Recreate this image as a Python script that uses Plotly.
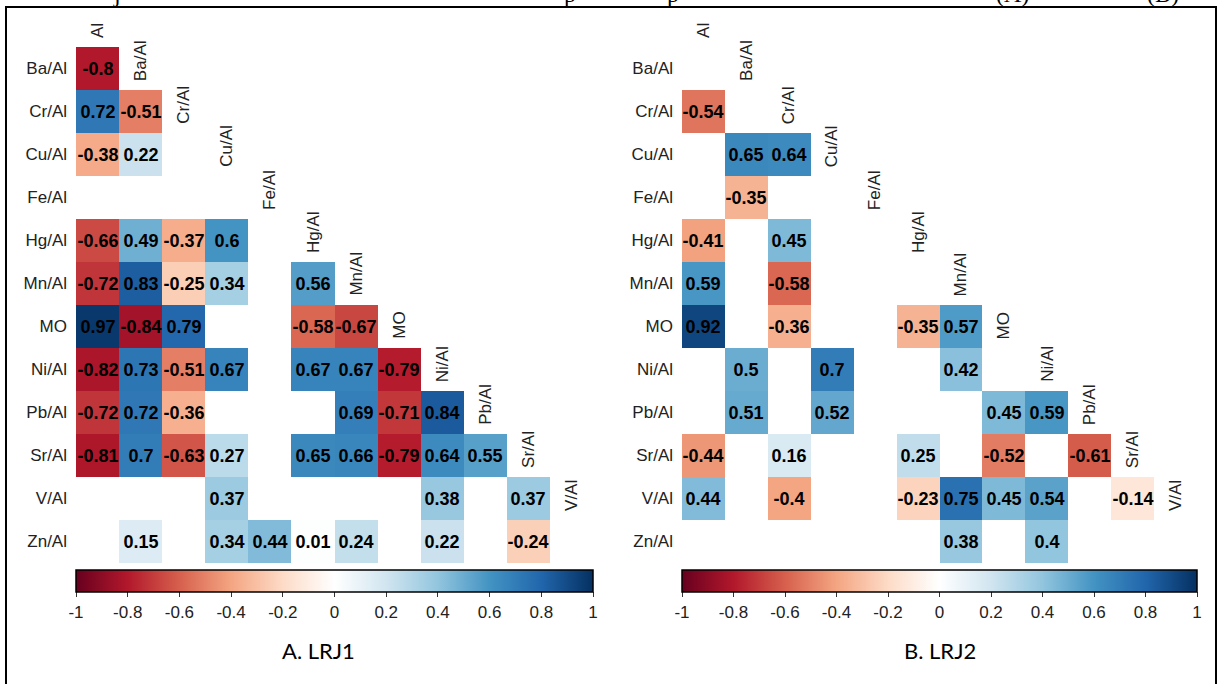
import plotly.graph_objects as go

# ---------------- data ----------------
col_labels = ["Al", "Ba/Al", "Cr/Al", "Cu/Al", "Fe/Al", "Hg/Al", "Mn/Al", "MO",
              "Ni/Al", "Pb/Al", "Sr/Al", "V/Al"]
row_labels = ["Ba/Al", "Cr/Al", "Cu/Al", "Fe/Al", "Hg/Al", "Mn/Al", "MO", "Ni/Al",
              "Pb/Al", "Sr/Al", "V/Al", "Zn/Al"]
N = None
lrj1 = [
    [-0.80, N, N, N, N, N, N, N, N, N, N, N],
    [0.72, -0.51, N, N, N, N, N, N, N, N, N, N],
    [-0.38, 0.22, N, N, N, N, N, N, N, N, N, N],
    [N, N, N, N, N, N, N, N, N, N, N, N],
    [-0.66, 0.49, -0.37, 0.60, N, N, N, N, N, N, N, N],
    [-0.72, 0.83, -0.25, 0.34, N, 0.56, N, N, N, N, N, N],
    [0.97, -0.84, 0.79, N, N, -0.58, -0.67, N, N, N, N, N],
    [-0.82, 0.73, -0.51, 0.67, N, 0.67, 0.67, -0.79, N, N, N, N],
    [-0.72, 0.72, -0.36, N, N, N, 0.69, -0.71, 0.84, N, N, N],
    [-0.81, 0.70, -0.63, 0.27, N, 0.65, 0.66, -0.79, 0.64, 0.55, N, N],
    [N, N, N, 0.37, N, N, N, N, 0.38, N, 0.37, N],
    [N, 0.15, N, 0.34, 0.44, 0.01, 0.24, N, 0.22, N, -0.24, N],
]
lrj2 = [
    [N, N, N, N, N, N, N, N, N, N, N, N],
    [-0.54, N, N, N, N, N, N, N, N, N, N, N],
    [N, 0.65, 0.64, N, N, N, N, N, N, N, N, N],
    [N, -0.35, N, N, N, N, N, N, N, N, N, N],
    [-0.41, N, 0.45, N, N, N, N, N, N, N, N, N],
    [0.59, N, -0.58, N, N, N, N, N, N, N, N, N],
    [0.92, N, -0.36, N, N, -0.35, 0.57, N, N, N, N, N],
    [N, 0.50, N, 0.70, N, N, 0.42, N, N, N, N, N],
    [N, 0.51, N, 0.52, N, N, N, 0.45, 0.59, N, N, N],
    [-0.44, N, 0.16, N, N, 0.25, N, -0.52, N, -0.61, N, N],
    [0.44, N, -0.40, N, N, -0.23, 0.75, 0.45, 0.54, N, -0.14, N],
    [N, N, N, N, N, N, 0.38, N, 0.40, N, N, N],
]
cbar_ticks = [-1, -0.8, -0.6, -0.4, -0.2, 0, 0.2, 0.4, 0.6, 0.8, 1]
panel_titles = ["A. LRJ1", "B. LRJ2"]
caption_fragments = ["j", "p", "p", "(A)", "(B)"]

# ---------------- style ----------------
W, H = 1219, 684
rdbu = ["#67001F", "#B2182B", "#D6604D", "#F4A582", "#FDDBC7", "#FFFFFF",
        "#D1E5F0", "#92C5DE", "#4393C3", "#2166AC", "#053061"]
colorscale = [[i / (len(rdbu) - 1), c] for i, c in enumerate(rdbu)]
SANS = "Liberation Sans, Arial, sans-serif"

panels = [
    dict(z=lrj1, x0=76, x1=593, ax="x", ay="y", title_x=318),
    dict(z=lrj2, x0=682, x1=1197, ax="x2", ay="y2", title_x=940),
]
grid_top, grid_bot = 47, 563
cbar_top = 570


def fmt(v):
    return "" if v is None else f"{v:g}"


fig = go.Figure()
annotations = []
for k, p in enumerate(panels):
    n = len(col_labels)
    fig.add_trace(go.Heatmap(
        z=p["z"], x=list(range(n)), y=list(range(len(row_labels))),
        xaxis=p["ax"], yaxis=p["ay"],
        zmin=-1, zmax=1, colorscale=colorscale,
        text=[[fmt(v) for v in r] for r in p["z"]],
        texttemplate="%{text}",
        textfont=dict(family=SANS, size=18, color="black", weight="bold"),
        hoverongaps=False,
        colorbar=dict(
            orientation="h", x=(p["x0"] + p["x1"]) / 2 / W, xanchor="center",
            y=1 - cbar_top / H, yanchor="top",
            lenmode="pixels", len=p["x1"] - p["x0"], thickness=22,
            xpad=0, ypad=0, outlinewidth=1.5, outlinecolor="black",
            tickvals=cbar_ticks, ticktext=[f"{t:g}" for t in cbar_ticks],
            ticks="outside", ticklen=5, tickcolor="#333",
            tickfont=dict(family=SANS, size=17, color="#222"),
        ),
    ))
    # diagonal column labels
    for j, lab in enumerate(col_labels):
        annotations.append(dict(
            text=lab, xref=p["ax"], yref=p["ay"], x=j, y=j - 1 + 0.5,
            xanchor="center", yanchor="bottom", yshift=7, textangle=-90,
            showarrow=False, font=dict(family=SANS, size=17, color="#222"),
        ))
    annotations.append(dict(
        text=panel_titles[k], xref="paper", yref="paper",
        x=p["title_x"] / W, y=1 - 650 / H, xanchor="center", yanchor="middle",
        showarrow=False, font=dict(family="Lato, Open Sans, sans-serif", size=22, color="black"),
    ))

# cut-off caption line at the very top (only descenders visible)
frag_x = [117, 570, 673, 1012, 1163]
for t, xx in zip(caption_fragments, frag_x):
    annotations.append(dict(
        text=t, xref="paper", yref="paper", x=xx / W, y=1,
        xanchor="center", yanchor="bottom", yshift=-9, showarrow=False,
        font=dict(family="Liberation Serif, Times New Roman, serif", size=24, color="black"),
    ))

axis_common = dict(showgrid=False, zeroline=False, showline=False, fixedrange=True)
layout_axes = {}
for i, p in enumerate(panels):
    sfx = "" if i == 0 else str(i + 1)
    layout_axes["xaxis" + sfx] = dict(
        domain=[p["x0"] / W, p["x1"] / W], range=[-0.5, len(col_labels) - 0.5],
        showticklabels=False, ticks="", anchor="y" + sfx, **axis_common)
    layout_axes["yaxis" + sfx] = dict(
        domain=[1 - grid_bot / H, 1 - grid_top / H], range=[len(row_labels) - 0.5, -0.5],
        tickvals=list(range(len(row_labels))), ticktext=row_labels, ticks="",
        ticklabelstandoff=8, anchor="x" + sfx,
        tickfont=dict(family=SANS, size=17, color="#222"), **axis_common)

fig.update_layout(
    width=W, height=H, margin=dict(l=0, r=0, t=0, b=0),
    paper_bgcolor="white", plot_bgcolor="white",
    annotations=annotations,
    shapes=[dict(type="rect", xref="paper", yref="paper",
                 x0=6 / W, x1=1216 / W, y0=-0.2, y1=1 - 7 / H,
                 line=dict(color="black", width=2), fillcolor="rgba(0,0,0,0)")],
    **layout_axes,
)

fig.write_html(
    "out.html",
    config={"displayModeBar": False},
    post_script="document.body.style.margin='0';document.body.style.overflow='hidden';",
)
